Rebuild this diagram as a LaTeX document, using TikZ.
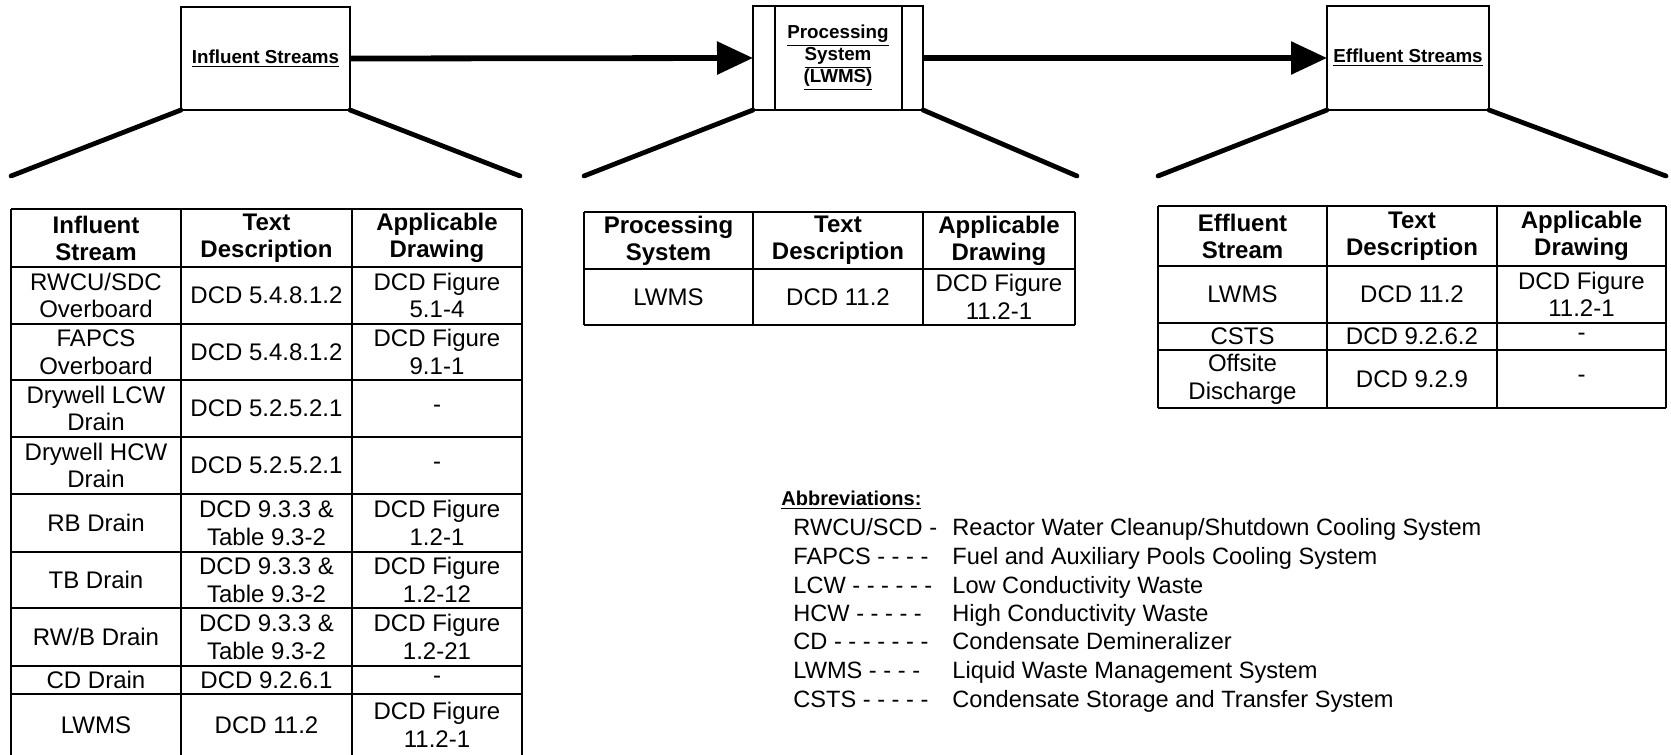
\documentclass[tikz,border=0pt]{standalone}
\usepackage{fontspec}
\setmainfont{Liberation Sans}
\usetikzlibrary{arrows.meta}

\begin{document}
\begin{tikzpicture}[x=0.5pt, y=-0.5pt, >={Triangle[length=18pt,width=16pt]},
  topbox/.style={draw, line width=1.1pt, outer sep=0pt, inner sep=0pt, align=center,
    font=\fontsize{9.4}{10.5}\selectfont\bfseries},
  fan/.style={line width=2.4pt, line cap=round},
  flow/.style={line width=2.9pt, ->},
  tabline/.style={line width=1.2pt},
  cell/.style={align=center, inner sep=0pt, font=\fontsize{12}{13.8}\selectfont},
  headcell/.style={cell, font=\fontsize{12}{13.5}\selectfont\bfseries},
  abtext/.style={anchor=base west, inner sep=0pt, font=\fontsize{11.8}{14}\selectfont}]
\path[fill=white, use as bounding box] (0,0) rectangle (1671,755);

% the three blocks on top
\node[topbox, minimum width=84.5pt, minimum height=51.5pt] (influent) at (265.5,58.5) {\underline{Influent Streams}};
\node[topbox, minimum width=85pt, minimum height=52pt] (proc) at (838,58) {\underline{Processing}\\[-0.7pt]\underline{System}\\[-0.7pt]\underline{(LWMS)}};
\node[topbox, minimum width=81pt, minimum height=52pt] (effl) at (1408,58) {\underline{Effluent Streams}};
\draw[line width=1.1pt] ([xshift=11pt]proc.north west) -- ([xshift=11pt]proc.south west);
\draw[line width=1.1pt] ([xshift=-10.5pt]proc.north east) -- ([xshift=-10.5pt]proc.south east);

\draw[flow] (influent.east) -- (proc.west);
\draw[flow] (proc.east) -- (effl.west);

% fans down to the tables
\coordinate (inL) at (11,176);   \coordinate (inR) at (520,176);
\coordinate (prL) at (584,176);  \coordinate (prR) at (1077,176);
\coordinate (efL) at (1158,176); \coordinate (efR) at (1666,176);
\draw[fan] (inL) -- (influent.south west);
\draw[fan] (influent.south east) -- (inR);
\draw[fan] (prL) -- (proc.south west);
\draw[fan] (proc.south east) -- (prR);
\draw[fan] (efL) -- (effl.south west);
\draw[fan] (effl.south east) -- (efR);

% influent table
\foreach \y in {209,267,324,380,437,494,552,608,666,694,758}
  \draw[tabline] (11,\y) -- (522,\y);
\foreach \x in {11,181,352,522}
  \draw[tabline] (\x,209) -- (\x,758);
\node[headcell] (inH1) at (96,238) {Influent\\Stream};
\node[headcell] (inH2) at (266.5,238) {Text\\Description};
\node[headcell] (inH3) at (437,238) {Applicable\\Drawing};
\foreach \y/\a/\b/\c [count=\i] in {
    295.5/{RWCU/SDC\\Overboard}/{DCD 5.4.8.1.2}/{DCD Figure\\5.1-4},
    352/{FAPCS\\Overboard}/{DCD 5.4.8.1.2}/{DCD Figure\\9.1-1},
    408.5/{Drywell LCW\\Drain}/{DCD 5.2.5.2.1}/{-},
    465.5/{Drywell HCW\\Drain}/{DCD 5.2.5.2.1}/{-},
    523/{RB Drain}/{DCD 9.3.3 \&\\Table 9.3-2}/{DCD Figure\\1.2-1},
    580/{TB Drain}/{DCD 9.3.3 \&\\Table 9.3-2}/{DCD Figure\\1.2-12},
    637/{RW/B Drain}/{DCD 9.3.3 \&\\Table 9.3-2}/{DCD Figure\\1.2-21},
    680/{CD Drain}/{DCD 9.2.6.1}/{-},
    725/{LWMS}/{DCD 11.2}/{DCD Figure\\11.2-1}}
  {\node[cell] (in\i a) at (96,\y) {\a};
   \node[cell] (in\i b) at (266.5,\y) {\b};
   \node[cell] (in\i c) at (437,\y) {\c};}

% processing table
\foreach \y in {212,269,325}
  \draw[tabline] (584,\y) -- (1075,\y);
\foreach \x in {584,753,923,1075}
  \draw[tabline] (\x,212) -- (\x,325);
\node[headcell] (prH1) at (668.5,240.5) {Processing\\System};
\node[headcell] (prH2) at (838,240.5) {Text\\Description};
\node[headcell] (prH3) at (999,240.5) {Applicable\\Drawing};
\node[cell] (pr1a) at (668.5,297) {LWMS};
\node[cell] (pr1b) at (838,297) {DCD 11.2};
\node[cell] (pr1c) at (999,297) {DCD Figure\\11.2-1};

% effluent table
\foreach \y in {206,266,323,350,408}
  \draw[tabline] (1158,\y) -- (1666,\y);
\foreach \x in {1158,1327,1497,1666}
  \draw[tabline] (\x,206) -- (\x,408);
\node[headcell] (efH1) at (1242.5,236) {Effluent\\Stream};
\node[headcell] (efH2) at (1412,236) {Text\\Description};
\node[headcell] (efH3) at (1581.5,236) {Applicable\\Drawing};
\foreach \y/\a/\b/\c [count=\i] in {
    294.5/{LWMS}/{DCD 11.2}/{DCD Figure\\11.2-1},
    336.5/{CSTS}/{DCD 9.2.6.2}/{-},
    379/{Offsite\\Discharge}/{DCD 9.2.9}/{-}}
  {\node[cell] (ef\i a) at (1242.5,\y) {\a};
   \node[cell] (ef\i b) at (1412,\y) {\b};
   \node[cell] (ef\i c) at (1581.5,\y) {\c};}

% abbreviations
\node[anchor=base west, inner sep=0pt, font=\fontsize{10}{12}\selectfont\bfseries] (abbrev) at (781,505) {\underline{Abbreviations:}};
\foreach \y/\k/\v [count=\i] in {
    535/{RWCU/SCD -}/{Reactor Water Cleanup/Shutdown Cooling System},
    564/{FAPCS - - - -}/{Fuel and Auxiliary Pools Cooling System},
    593/{LCW - - - - - -}/{Low Conductivity Waste},
    621/{HCW - - - - -}/{High Conductivity Waste},
    649/{CD - - - - - - -}/{Condensate Demineralizer},
    678/{LWMS - - - -}/{Liquid Waste Management System},
    707/{CSTS - - - - -}/{Condensate Storage and Transfer System}}
  {\node[abtext] (ab\i) at (793,\y) {\k};
   \node[abtext] (def\i) at (952,\y) {\v};}
\end{tikzpicture}
\end{document}
